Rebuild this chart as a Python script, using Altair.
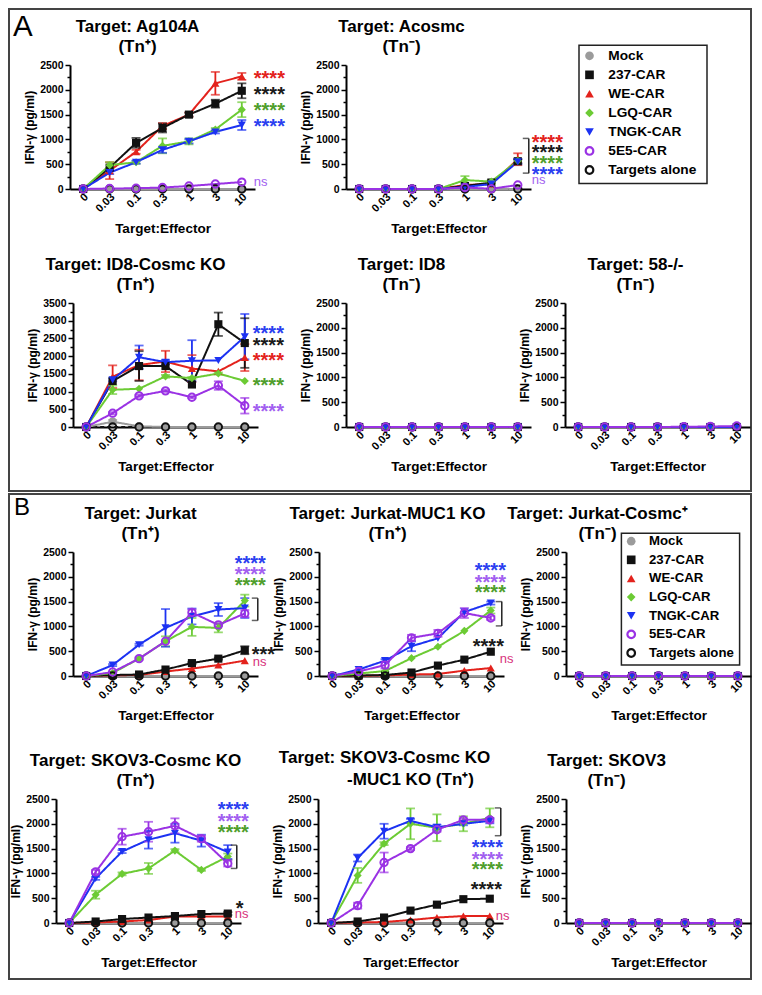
import altair as alt
import pandas as pd

FONT = "Liberation Sans"

# ---------------- categories / series ----------------
RATIOS = ["0", "0.03", "0.1", "0.3", "1", "3", "10"]
SERIES = ["Mock", "237-CAR", "WE-CAR", "LGQ-CAR", "TNGK-CAR", "5E5-CAR", "Targets alone"]
COLORS = ["#9b9b9b", "#111111", "#e3221c", "#6ccb34", "#1c32f2", "#9a32e4", "#111111"]
SHAPES = ["circle", "square", "triangle-up", "diamond", "triangle-down", "circle", "circle"]
OPEN_SERIES = ["5E5-CAR", "Targets alone"]
DRAW_ORDER = ["Targets alone", "Mock", "WE-CAR", "237-CAR", "LGQ-CAR", "TNGK-CAR", "5E5-CAR"]
NOTE_COLORS = {"237-CAR": "#1a1a1a", "WE-CAR": "#e3221c", "LGQ-CAR": "#4f9e2c",
               "TNGK-CAR": "#2b3ff0", "5E5-CAR": "#a25ff0", "ns": "#d8327c"}
ZERO = [0, 0, 0, 0, 0, 0, 0]

# ---------------- panel A: Ag104A ----------------
AG104A = {"Mock": ZERO,
          "237-CAR": [0, 430, 930, 1230, 1500, 1720, 1980],
          "WE-CAR": [0, 370, 750, 1270, 1500, 2130, 2270],
          "LGQ-CAR": [0, 480, 540, 870, 960, 1200, 1600],
          "TNGK-CAR": [0, 330, 540, 790, 960, 1150, 1290],
          "5E5-CAR": [0, 10, 15, 30, 60, 100, 140],
          "Targets alone": ZERO}
AG104A_SD = {"237-CAR": [0, 0, 100, 90, 40, 80, 150],
             "WE-CAR": [0, 170, 40, 60, 40, 230, 70],
             "LGQ-CAR": [0, 60, 30, 150, 60, 30, 150],
             "TNGK-CAR": [0, 30, 30, 60, 40, 30, 100]}
AG104A_SIG = [("****", "WE-CAR", 2320), ("****", "237-CAR", 2000), ("****", "LGQ-CAR", 1680),
              ("****", "TNGK-CAR", 1360), ("ns", "5E5-CAR", 140)]

# ---------------- Acosmc ----------------
ACOSMC = {"Mock": ZERO,
          "237-CAR": [0, 0, 0, 0, 60, 130, 560],
          "WE-CAR": [0, 0, 0, 0, 80, 100, 600],
          "LGQ-CAR": [0, 0, 0, 0, 180, 150, 570],
          "TNGK-CAR": [0, 0, 0, 0, 40, 100, 550],
          "5E5-CAR": [0, 0, 0, 0, 30, 5, 80],
          "Targets alone": ZERO}
ACOSMC_SD = {"237-CAR": [0, 0, 0, 0, 0, 0, 40], "WE-CAR": [0, 0, 0, 0, 0, 0, 120],
             "LGQ-CAR": [0, 0, 0, 0, 80, 30, 0], "TNGK-CAR": [0, 0, 0, 0, 0, 0, 50]}
ACOSMC_SIG = [("****", "WE-CAR", 1020), ("****", "237-CAR", 820), ("****", "LGQ-CAR", 600),
              ("****", "TNGK-CAR", 380), ("ns", "5E5-CAR", 180)]
ACOSMC_BRACKET = (1020, 320)

# ---------------- ID8-Cosmc KO ----------------
ID8KO = {"Mock": [0, 150, 20, 0, 0, 0, 0],
         "237-CAR": [0, 1300, 1720, 1720, 1200, 2900, 2370],
         "WE-CAR": [0, 1420, 1750, 1850, 1650, 1570, 1960],
         "LGQ-CAR": [0, 1050, 1080, 1430, 1380, 1510, 1300],
         "TNGK-CAR": [0, 1330, 1970, 1830, 1870, 1880, 2550],
         "5E5-CAR": [0, 390, 880, 1020, 840, 1170, 600],
         "Targets alone": ZERO}
ID8KO_SD = {"Mock": [0, 50, 0, 0, 0, 0, 0],
            "237-CAR": [0, 0, 420, 0, 0, 330, 700],
            "WE-CAR": [0, 320, 430, 300, 380, 0, 380],
            "LGQ-CAR": [0, 120, 0, 40, 30, 30, 0],
            "TNGK-CAR": [0, 40, 330, 60, 580, 0, 640],
            "5E5-CAR": [0, 30, 30, 30, 30, 120, 220]}
ID8KO_SIG = [("****", "TNGK-CAR", 2780), ("****", "237-CAR", 2435), ("****", "WE-CAR", 1990),
             ("****", "LGQ-CAR", 1296), ("****", "5E5-CAR", 574)]

# ---------------- ID8 / 58-/- ----------------
ID8 = {"Mock": ZERO, "237-CAR": ZERO, "WE-CAR": ZERO, "LGQ-CAR": ZERO,
       "TNGK-CAR": ZERO, "5E5-CAR": ZERO, "Targets alone": ZERO}
KO58 = {"Mock": ZERO, "237-CAR": ZERO, "WE-CAR": ZERO, "LGQ-CAR": ZERO,
        "TNGK-CAR": ZERO, "5E5-CAR": [0, 0, 0, 0, 5, 10, 20], "Targets alone": ZERO}

# ---------------- panel B: Jurkat ----------------
JURKAT = {"Mock": ZERO,
          "237-CAR": [0, 20, 30, 130, 260, 350, 520],
          "WE-CAR": [0, 15, 20, 90, 150, 220, 310],
          "LGQ-CAR": [0, 60, 350, 700, 990, 970, 1520],
          "TNGK-CAR": [0, 220, 630, 970, 1200, 1340, 1370],
          "5E5-CAR": [0, 80, 350, 700, 1280, 1030, 1260],
          "Targets alone": ZERO}
JURKAT_SD = {"237-CAR": [0, 0, 0, 0, 20, 20, 80],
             "LGQ-CAR": [0, 0, 0, 100, 180, 90, 120],
             "TNGK-CAR": [0, 20, 20, 380, 160, 130, 200],
             "5E5-CAR": [0, 0, 20, 0, 60, 30, 70]}
JURKAT_SIG = [("****", "TNGK-CAR", 2360), ("****", "5E5-CAR", 2128), ("****", "LGQ-CAR", 1917),
              ("***", "237-CAR", 529), ("ns", "ns", 284)]
JURKAT_BRACKET = (1570, 1120)

# ---------------- Jurkat-MUC1 KO ----------------
JMUC1 = {"Mock": ZERO,
         "237-CAR": [0, 10, 20, 70, 210, 330, 490],
         "WE-CAR": [0, 5, 10, 30, 40, 110, 160],
         "LGQ-CAR": [0, 50, 100, 360, 590, 910, 1320],
         "TNGK-CAR": [0, 130, 310, 600, 760, 1290, 1470],
         "5E5-CAR": [0, 90, 220, 770, 860, 1270, 1170],
         "Targets alone": ZERO}
JMUC1_SD = {"LGQ-CAR": [0, 0, 0, 0, 0, 0, 60],
            "TNGK-CAR": [0, 0, 30, 100, 0, 0, 30],
            "5E5-CAR": [0, 0, 70, 60, 70, 100, 40]}
JMUC1_SIG = [("****", "TNGK-CAR", 2214), ("****", "5E5-CAR", 1983), ("****", "LGQ-CAR", 1765),
             ("****", "237-CAR", 694), ("ns", "ns", 343)]
JMUC1_BRACKET = (1500, 1010)

# ---------------- Jurkat-Cosmc+ / SKOV3 ----------------
JCOSMC = {"Mock": ZERO, "237-CAR": ZERO, "WE-CAR": ZERO, "LGQ-CAR": ZERO,
          "TNGK-CAR": ZERO, "5E5-CAR": ZERO, "Targets alone": ZERO}
SKOV3 = {"Mock": ZERO, "237-CAR": ZERO, "WE-CAR": ZERO, "LGQ-CAR": ZERO,
         "TNGK-CAR": ZERO, "5E5-CAR": ZERO, "Targets alone": ZERO}

# ---------------- SKOV3-Cosmc KO ----------------
SKKO = {"Mock": ZERO,
        "237-CAR": [0, 30, 80, 110, 140, 180, 190],
        "WE-CAR": [0, 10, 30, 60, 130, 130, 130],
        "LGQ-CAR": [0, 570, 990, 1100, 1460, 1070, 1340],
        "TNGK-CAR": [0, 900, 1440, 1680, 1810, 1660, 1430],
        "5E5-CAR": [0, 1030, 1740, 1840, 1960, 1700, 1200],
        "Targets alone": ZERO}
SKKO_SD = {"237-CAR": [0, 0, 0, 0, 0, 0, 30],
           "LGQ-CAR": [0, 80, 30, 110, 30, 20, 60],
           "TNGK-CAR": [0, 30, 30, 180, 190, 120, 140],
           "5E5-CAR": [0, 40, 160, 200, 150, 60, 60]}
SKKO_SIG = [("****", "TNGK-CAR", 2387), ("****", "5E5-CAR", 2133), ("****", "LGQ-CAR", 1907),
            ("*", "237-CAR", 387), ("ns", "ns", 187)]
SKKO_BRACKET = (1570, 1100)

# ---------------- SKOV3-Cosmc KO-MUC1 KO ----------------
SKKO2 = {"Mock": ZERO,
         "237-CAR": [0, 30, 110, 250, 370, 480, 490],
         "WE-CAR": [0, 10, 20, 60, 110, 140, 140],
         "LGQ-CAR": [0, 960, 1600, 2000, 1920, 2000, 2120],
         "TNGK-CAR": [0, 1310, 1850, 2060, 1930, 2000, 2060],
         "5E5-CAR": [0, 350, 1220, 1500, 1880, 2080, 2080],
         "Targets alone": ZERO}
SKKO2_SD = {"LGQ-CAR": [0, 150, 30, 310, 270, 150, 190],
            "TNGK-CAR": [0, 70, 150, 40, 50, 30, 50],
            "5E5-CAR": [0, 60, 200, 30, 40, 30, 40]}
SKKO2_SIG = [("****", "TNGK-CAR", 1620), ("****", "5E5-CAR", 1380), ("****", "LGQ-CAR", 1160),
             ("****", "237-CAR", 760), ("ns", "ns", 150)]
SKKO2_BRACKET = (2320, 1760)

# ---------------- layout / style ----------------
W, H = 185, 124
ONE = pd.DataFrame({"k": [0]})
LEG = pd.DataFrame({"series": SERIES})

COLOR = alt.Color("series:N", scale=alt.Scale(domain=SERIES, range=COLORS), legend=None)
SHAPE = alt.Shape("series:N", scale=alt.Scale(domain=SERIES, range=SHAPES), legend=None)
DASH = alt.StrokeDash("series:N", scale=alt.Scale(domain=SERIES, range=[[1, 0]] * 6 + [[4, 3]]),
                      legend=None)
FILLED_PRED = alt.FieldOneOfPredicate(field="series", oneOf=[s for s in SERIES if s not in OPEN_SERIES])
OPEN_PRED = alt.FieldOneOfPredicate(field="series", oneOf=OPEN_SERIES)

XAXIS = alt.Axis(title="Target:Effector", labelAngle=-45, labelAlign="right", labelBaseline="middle",
                 ticks=False, labelPadding=6, labelOffset=3, domainWidth=2, domainColor="black",
                 labelFontSize=11, labelFontWeight="bold", labelColor="black", labelOverlap=False,
                 titleFontSize=13.5, titleFontWeight="bold", titleColor="black", titlePadding=8,
                 grid=False)


def yaxis(ymax, shift):
    return alt.Axis(title="IFN-γ (pg/ml)", values=list(range(0, ymax + 1, 250)), format="d",
                    labelExpr="datum.value % 500 === 0 ? datum.label : ''",
                    tickSize={"condition": {"test": "datum.value % 500 === 0", "value": 5}, "value": 3},
                    tickWidth=1.5, tickColor="black", domainWidth=2, domainColor="black",
                    labelFontSize=10.5, labelFontWeight="bold", labelColor="black", labelPadding=2,
                    labelOverlap=False, titleFontSize=12, titleFontWeight="bold", titleColor="black",
                    titlePadding=3, grid=False, offset=-shift)


def make_df(mean, sd):
    rows = []
    for s in DRAW_ORDER:
        e_list = sd.get(s, ZERO)
        for i, r in enumerate(RATIOS):
            m, e = mean[s][i], e_list[i]
            rows.append({"series": s, "ratio": r, "idx": i, "v": m, "lo": m - e, "hi": m + e, "err": e})
    return pd.DataFrame(rows)


def panel(lines, title_dx, mean, sd, ymax=2500, notes=(), note_pos=(), bracket=None, bracket_x=11,
          shift=0, second_line=None):
    df = make_df(mean, sd)
    yscale = alt.Scale(domain=[0, ymax], nice=False, zero=True)
    ya = yaxis(ymax, shift)

    def Y(f):
        return alt.Y(f, scale=yscale, axis=ya)

    X = alt.X("ratio:N", sort=RATIOS,
              scale=alt.Scale(type="point", domain=RATIOS, padding=0.5, range=[shift, shift + W]),
              axis=XAXIS)
    base = alt.Chart(df)
    eb = base.transform_filter("datum.err > 0")
    layers = [
        base.mark_line(strokeWidth=2).encode(x=X, y=Y("v:Q"), color=COLOR, strokeDash=DASH,
                                             order="idx:Q"),
        eb.mark_rule(strokeWidth=1.8).encode(x=X, y=Y("lo:Q"), y2="hi:Q", color=COLOR),
        eb.transform_fold(["lo", "hi"], as_=["end", "cap"]).mark_tick(
            orient="horizontal", size=9, thickness=1.8).encode(x=X, y=Y("cap:Q"), color=COLOR),
        base.transform_filter(FILLED_PRED).mark_point(filled=True, size=66, opacity=1).encode(
            x=X, y=Y("v:Q"), color=COLOR, shape=SHAPE),
        base.transform_filter(OPEN_PRED).mark_point(filled=False, size=54, strokeWidth=2, opacity=1).encode(
            x=X, y=Y("v:Q"), color=COLOR, shape=SHAPE),
    ]
    if bracket:
        bdf = pd.DataFrame({"ratio": ["10"], "top": [bracket[0]], "bot": [bracket[1]]})
        bc = alt.Chart(bdf)
        layers.append(bc.mark_rule(xOffset=bracket_x, strokeWidth=1.5, color="#222").encode(
            x=X, y=Y("top:Q"), y2="bot:Q"))
        layers.append(bc.mark_tick(orient="horizontal", size=6, thickness=1.5, xOffset=bracket_x - 3,
                                   color="#222").encode(x=X, y=Y("top:Q")))
        layers.append(bc.mark_tick(orient="horizontal", size=6, thickness=1.5, xOffset=bracket_x - 3,
                                   color="#222").encode(x=X, y=Y("bot:Q")))
    for (txt, key, yv), (dx, al) in zip(notes, note_pos):
        ndf = pd.DataFrame({"ratio": ["10"], "v": [yv], "t": [txt]})
        is_ns = txt == "ns"
        layers.append(alt.Chart(ndf).mark_text(
            align=al, baseline="middle", dx=dx, dy=0 if is_ns else 5,
            fontSize=13 if is_ns else 20, fontWeight="normal" if is_ns else "bold",
            color=NOTE_COLORS[key], font=FONT).encode(x=X, y=Y("v:Q"), text="t:N"))
    if second_line:
        # second title line that is not centred under the first one (as in the original)
        layers.append(alt.Chart(ONE).mark_text(
            text=second_line[0], align="center", baseline="bottom", fontSize=17, fontWeight="bold",
            font=FONT, color="black").encode(x=alt.value(shift + W / 2 + second_line[1]), y=alt.value(-10)))
    title = alt.TitleParams(text=lines, anchor="middle", frame="group", dx=title_dx + shift / 2, offset=4,
                            fontSize=17, fontWeight="bold", font=FONT, lineHeight=20, color="black")
    return alt.layer(*layers).properties(width=W + shift, height=H, title=title)


def spacer(w, h=H):
    return alt.Chart(ONE).mark_point(opacity=0).encode(x=alt.value(0), y=alt.value(0)).properties(
        width=w, height=h)


def frame(w, label, box, pos, size):
    rect = alt.Chart(ONE).mark_rect(filled=False, color="#444", strokeWidth=2).encode(
        x=alt.value(box[0]), x2=alt.value(box[1]), y=alt.value(box[2]), y2=alt.value(box[3]))
    txt = alt.Chart(ONE).mark_text(text=label, fontSize=size, align="left", baseline="alphabetic",
                                   font=FONT, color="black").encode(x=alt.value(pos[0]), y=alt.value(pos[1]))
    return alt.layer(rect, txt).properties(width=w, height=H)


def legend_block(w, box, sym_x, txt_x, y_range, fs):
    ly = alt.Y("series:N", sort=SERIES,
               scale=alt.Scale(type="point", domain=SERIES, range=y_range, padding=0), axis=None)
    rect = alt.Chart(ONE).mark_rect(filled=False, color="#222", strokeWidth=1.5).encode(
        x=alt.value(box[0]), x2=alt.value(box[1]), y=alt.value(box[2]), y2=alt.value(box[3]))
    base = alt.Chart(LEG)
    f = base.transform_filter(FILLED_PRED).mark_point(filled=True, size=75, opacity=1).encode(
        x=alt.value(sym_x), y=ly, color=COLOR, shape=SHAPE)
    o = base.transform_filter(OPEN_PRED).mark_point(filled=False, size=58, strokeWidth=2.2, opacity=1).encode(
        x=alt.value(sym_x), y=ly, color=COLOR, shape=SHAPE)
    t = base.mark_text(align="left", baseline="middle", fontSize=fs, fontWeight="bold", font=FONT,
                       color="black").encode(x=alt.value(txt_x), y=ly, text="series:N")
    return alt.layer(rect, f, o, t).properties(width=w, height=H)


L4 = [(12, "left")] * 5
A1 = panel(["Target: Ag104A", "(Tn⁺)"], -25, AG104A, AG104A_SD, 2500, AG104A_SIG, L4)
A2 = panel(["Target: Acosmc", "(Tn⁻)"], -37, ACOSMC, ACOSMC_SD, 2500, ACOSMC_SIG, [(14, "left")] * 5,
           ACOSMC_BRACKET, 11)
A3 = panel(["Target: ID8-Cosmc KO", "(Tn⁺)"], -30, ID8KO, ID8KO_SD, 3500, ID8KO_SIG, [(8, "left")] * 5,
           shift=3)
A4 = panel(["Target: ID8", "(Tn⁻)"], -37, ID8, {}, 2500)
A5 = panel(["Target: 58-/-", "(Tn⁻)"], -22, KO58, {}, 2500)

B1 = panel(["Target: Jurkat", "(Tn⁺)"], -25, JURKAT, JURKAT_SD, 2500, JURKAT_SIG,
           [(21, "right")] * 3 + [(7, "left"), (8, "left")], JURKAT_BRACKET, 13, shift=17)
B2 = panel(["Target: Jurkat-MUC1 KO", "(Tn⁺)"], -24, JMUC1, JMUC1_SD, 2500, JMUC1_SIG,
           [(-16, "left")] * 3 + [(-18, "left"), (9, "left")], JMUC1_BRACKET, 11, shift=1)
B3 = panel(["Target: Jurkat-Cosmc⁺", "(Tn⁻)"], -61, JCOSMC, {}, 2500)
B4 = panel(["Target: SKOV3-Cosmc KO", "(Tn⁺)"], -13, SKKO, SKKO_SD, 2500, SKKO_SIG,
           [(21, "right")] * 3 + [(8, "left"), (7, "left")], SKKO_BRACKET, 9)
B5 = panel(["Target: SKOV3-Cosmc KO"], -26, SKKO2, SKKO2_SD, 2500, SKKO2_SIG,
           [(-18, "left")] * 3 + [(-19, "left"), (6, "left")], SKKO2_BRACKET, 11,
           second_line=("-MUC1 KO (Tn⁺)", 0))
B6 = panel(["Target: SKOV3", "(Tn⁻)"], -52, SKOV3, {}, 2500)

frameA = frame(15, "A", (-46, 696, -56, 426), (-42, -29), 29.5)
frameB = frame(1, "B", (-46, 696, -58, 427), (-41, -37), 24)
legA = legend_block(145, (14, 142, -19.7, 118.5), 24.5, 43.3, [-9.2, 105], 13.7)
legB = legend_block(1, (-129.6, -11.4, -18.7, 113), -119.8, -102, [-10.8, 101], 13.2)


def gap_row(h):
    return [spacer(1, h) for _ in range(7)]


secA = alt.concat(
    *([frameA, A1, spacer(88), A2, spacer(34), legA, spacer(1)]
      + gap_row(114)
      + [spacer(15), A3, spacer(88), A4, spacer(34), A5, spacer(1)]),
    columns=7, align="each", bounds="flush", spacing=0)

secB = alt.concat(
    *([frameB, B1, spacer(60), B2, spacer(62), B3, legB]
      + gap_row(123)
      + [spacer(1), B4, spacer(60), B5, spacer(62), B6, spacer(1)]),
    columns=7, align="each", bounds="flush", spacing=0)

chart = alt.vconcat(secA, secB, spacing=1).properties(padding=0).configure(
    font=FONT, view=alt.ViewConfig(stroke=None))

chart.save("out.html", embed_options={"renderer": "svg", "actions": False})
